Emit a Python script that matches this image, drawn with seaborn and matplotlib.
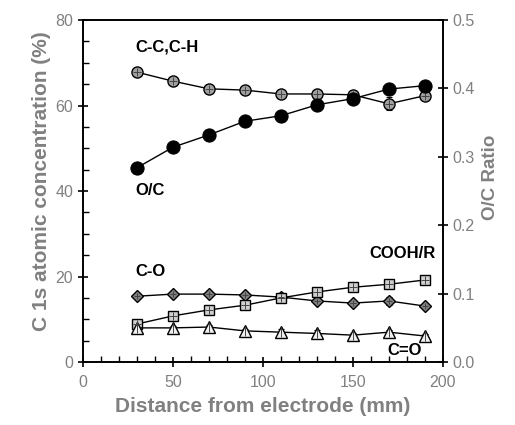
import matplotlib
matplotlib.use("Agg")
import matplotlib.pyplot as plt
import seaborn as sns
from matplotlib.ticker import MultipleLocator, FormatStrFormatter

# ---- data ----
distance = [30, 50, 70, 90, 110, 130, 150, 170, 190]
cc_ch = [67.8, 65.7, 63.9, 63.6, 62.7, 62.7, 62.5, 60.4, 62.3]
cc_ch_err = [0.5, 0.5, 0.5, 0.5, 0.5, 0.5, 0.5, 1.5, 0.8]
c_o = [15.4, 15.9, 15.9, 15.7, 15.2, 14.3, 13.8, 14.3, 13.1]
c_o_err = [0.4, 0.4, 0.4, 0.4, 0.5, 0.6, 0.4, 1.0, 0.8]
cooh = [8.9, 10.8, 12.2, 13.3, 15.0, 16.4, 17.5, 18.2, 19.2]
cooh_err = [0.4, 0.4, 0.4, 0.4, 0.4, 0.4, 0.4, 0.5, 0.4]
c_dbl_o = [8.0, 8.0, 8.2, 7.3, 7.0, 6.7, 6.3, 7.0, 6.1]
c_dbl_o_err = [0.4, 0.4, 0.4, 0.4, 0.8, 0.8, 0.4, 0.5, 0.4]
o_c_ratio = [0.284, 0.314, 0.332, 0.352, 0.360, 0.376, 0.385, 0.399, 0.404]

sns.set_theme(style="ticks")
plt.rcParams["font.family"] = ["Liberation Sans", "DejaVu Sans"]

GREY = "#808080"

fig = plt.figure(figsize=(5.15, 4.25), dpi=100)
ax = fig.add_axes([0.161, 0.148, 0.699, 0.805])
ax2 = ax.twinx()


def draw_series(axis, y, err, marker, size, face, overlay):
    axis.errorbar(distance, y, yerr=err, fmt="none", ecolor="black",
                  elinewidth=0.8, capsize=2.5, capthick=0.8, zorder=2)
    sns.lineplot(x=distance, y=y, ax=axis, color="black", linewidth=1.0,
                 marker=marker, markersize=size, markerfacecolor=face,
                 markeredgecolor="black", markeredgewidth=1.0, zorder=3)
    if overlay:
        axis.plot(distance, y, linestyle="none", marker=overlay,
                  markersize=size - 2, markeredgecolor="#444444",
                  markeredgewidth=0.7, zorder=4)


draw_series(ax, cc_ch, cc_ch_err, "o", 8, "#a0a0a0", "+")
draw_series(ax, c_o, c_o_err, "D", 6.5, "#808080", "+")
draw_series(ax, cooh, cooh_err, "s", 7.5, "#d0d0d0", "+")
draw_series(ax, c_dbl_o, c_dbl_o_err, "^", 8.5, "#f0f0f0", "|")

sns.lineplot(x=distance, y=o_c_ratio, ax=ax2, color="black", linewidth=1.0,
             marker="o", markersize=9.5, markerfacecolor="black",
             markeredgecolor="black", zorder=3)

# axes limits and ticks
ax.set_xlim(0, 200)
ax.set_ylim(0, 80)
ax2.set_ylim(0, 0.5)
ax.xaxis.set_major_locator(MultipleLocator(50))
ax.xaxis.set_minor_locator(MultipleLocator(10))
ax.yaxis.set_major_locator(MultipleLocator(20))
ax.yaxis.set_minor_locator(MultipleLocator(5))
ax2.yaxis.set_major_locator(MultipleLocator(0.1))
ax2.yaxis.set_major_formatter(FormatStrFormatter("%.1f"))

for a in (ax, ax2):
    a.tick_params(which="major", direction="inout", length=7, width=1.2,
                  labelsize=11.5, labelcolor=GREY, color="black")
    a.tick_params(which="minor", direction="in", length=4, width=1.0,
                  color="black")
    for sp in a.spines.values():
        sp.set_visible(True)
        sp.set_linewidth(1.2)
        sp.set_color("black")
ax.tick_params(axis="x", which="major", pad=6)

ax.set_xlabel("Distance from electrode (mm)", fontsize=15,
              fontweight="bold", color=GREY, labelpad=5)
ax.set_ylabel("C 1s atomic concentration (%)", fontsize=15,
              fontweight="bold", color=GREY, labelpad=3)
ax.yaxis.label.set_y(0.53)
ax2.set_ylabel("O/C Ratio", fontsize=13.5, fontweight="bold", color=GREY,
               labelpad=5)
ax2.yaxis.label.set_y(0.54)

# series labels
label_kw = dict(fontsize=12, fontweight="bold", color="black",
                ha="left", va="center")
ax.text(29.4, 73.7, "C-C,C-H", **label_kw)
ax.text(29.4, 40.2, "O/C", **label_kw)
ax.text(29.4, 21.1, "C-O", **label_kw)
ax.text(159.4, 25.3, "COOH/R", **label_kw)
ax.text(169, 2.8, "C=O", **label_kw)

fig.savefig("out.png", dpi=100)
